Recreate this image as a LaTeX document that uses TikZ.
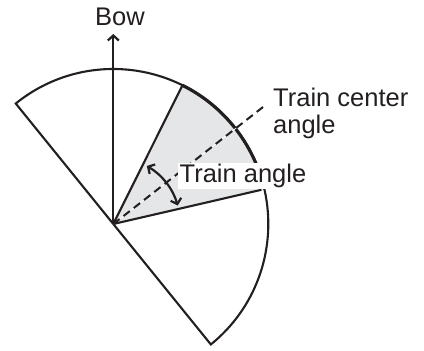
\documentclass[tikz,border=0pt]{standalone}
\usepackage{fontspec}
\setmainfont{Liberation Sans}
\usepackage{xcolor}
\definecolor{sectorgray}{RGB}{229,230,232}
\definecolor{inkblack}{RGB}{35,31,32}
\usetikzlibrary{positioning,arrows.meta,calc}
\tikzset{
  outline/.style={draw=inkblack,line width=2.1pt,line join=miter},
  trainfill/.style={fill=sectorgray},
  lbl/.style={text=inkblack,font=\fontsize{25.5}{27}\selectfont,inner sep=0pt},
  fl/.style={-{Straight Barb[length=5pt,width=11pt,line width=2.2pt]},draw=inkblack,line width=2.3pt},
  dfl/.style={{Straight Barb[length=5pt,width=11pt,line width=2.2pt]}-{Straight Barb[length=5pt,width=11pt,line width=2.2pt]},draw=inkblack,line width=2.2pt},
  centerline/.style={draw=inkblack,line width=2pt,dash pattern=on 8pt off 5pt},
}

\begin{document}
\begin{tikzpicture}[x=1pt,y=1pt]
  \useasboundingbox (-113.3,-127) rectangle (310.7,224);
  \coordinate (O) at (0,0);
  \coordinate (bowtip) at (0,190);
  \coordinate (upper) at (63.5:155);
  \coordinate (lower) at (13:152);
  \coordinate (dashend) at (38:190);
  % shaded train sector
  \fill[trainfill] (O) -- (upper) arc[start angle=63.5,end angle=13,radius=155] -- cycle;
  \draw[outline] (129:155) arc[start angle=129,end angle=-51,radius=155] -- cycle;
  \draw[outline,line width=3.2pt] (upper) arc[start angle=63.5,end angle=13,radius=155];
  \draw[outline] (O) -- (upper);
  \draw[outline] (O) -- (lower);
  \draw[white,line width=0.7pt] (O) -- (dashend);
  \draw[centerline] (O) -- (dashend);
  \draw[fl] (O) -- (bowtip);
  \draw[dfl] (60:67) arc[start angle=60,end angle=16,radius=67];
  % labels
  \node[lbl,anchor=base] (bow) at (6.7,198.3) {Bow};
  \node[lbl,fill=white,inner xsep=1.5pt,inner ysep=1pt] (trainangle) at (129.7,48) {Train angle};
  \node[lbl,align=left,anchor=west] (centerangle) at (159.7,111) {Train center\\angle};
\end{tikzpicture}
\end{document}
